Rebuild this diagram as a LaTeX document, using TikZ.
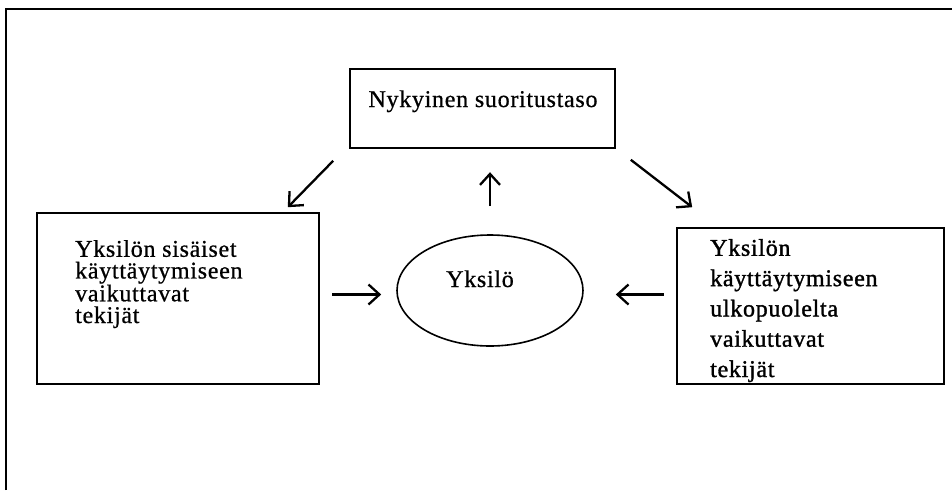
\documentclass[tikz,border=0pt]{standalone}
\usepackage{fontspec}
\setmainfont{Liberation Serif}[LetterSpace=3,FakeBold=0.7]
\newfontfamily\heavyserif{Liberation Serif}[LetterSpace=3,FakeBold=1.3]
\usetikzlibrary{arrows.meta,shapes.geometric,calc}
\begin{document}
\begin{tikzpicture}[x=1pt,y=-1pt,
  frameline/.style={line width=2.2pt},
  box/.style={draw,line width=1.6pt,inner sep=0pt},
  label/.style={font=\fontsize{24}{22}\selectfont,inner sep=0pt},
  arr/.style={line width=2.3pt,-{Straight Barb[length=11pt,width=20pt,line width=2.3pt]}}]
\useasboundingbox (0,0) rectangle (952,490);
% open outer frame (top and left edges only)
\draw[frameline] (6,490) -- (6,9) -- (952,9);
% boxes
\node[box,minimum width=265pt,minimum height=79pt] (perf) at (482.5,108.5) {};
\node[box,minimum width=282pt,minimum height=171pt] (inner) at (178,298.5) {};
\node[box,minimum width=267pt,minimum height=156pt] (outer) at (810.5,306) {};
\node[draw,ellipse,line width=1.6pt,minimum width=186pt,minimum height=111pt,inner sep=0pt] (self) at (490,290.5) {};
% texts (multi-line blocks are anchored at the baseline of their last line)
\node[label,anchor=base] (perftxt) at (483,107) {Nykyinen suoritustaso};
\node[label,anchor=base] (selftxt) at (480,287) {Yksilö};
\node[label,anchor=base west,align=left,font=\fontsize{24}{21.7}\selectfont] (innertxt) at (75,323)
  {Yksilön sisäiset\\käyttäytymiseen\\vaikuttavat\\tekijät};
\node[label,anchor=base west,align=left,font=\fontsize{24}{30.3}\selectfont\heavyserif] (outertxt) at (710,377)
  {Yksilön\\käyttäytymiseen\\ulkopuolelta\\vaikuttavat\\tekijät};
% arrow end points
\coordinate (a1s) at ($(perf.south west)+(-16,12)$);
\coordinate (a1e) at ($(inner.north east)+(-32,-5)$);
\coordinate (a2s) at ($(perf.south east)+(15,11)$);
\coordinate (a2e) at ($(outer.north west)+(16,-20)$);
\coordinate (a3s) at ($(self.north)+(0,-28)$);
\coordinate (a3e) at ($(self.north)+(0,-62)$);
\coordinate (a4s) at ($(self.west)+(-64,4)$);
\coordinate (a4e) at ($(self.west)+(-15,4)$);
\coordinate (a5s) at ($(self.east)+(80,4)$);
\coordinate (a5e) at ($(self.east)+(32,4)$);
% arrows
\draw[arr] (a1s) -- (a1e);
\draw[arr] (a2s) -- (a2e);
\draw[arr] (a3s) -- (a3e);
\draw[arr] (a4s) -- (a4e);
\draw[arr] (a5s) -- (a5e);
\end{tikzpicture}
\end{document}
